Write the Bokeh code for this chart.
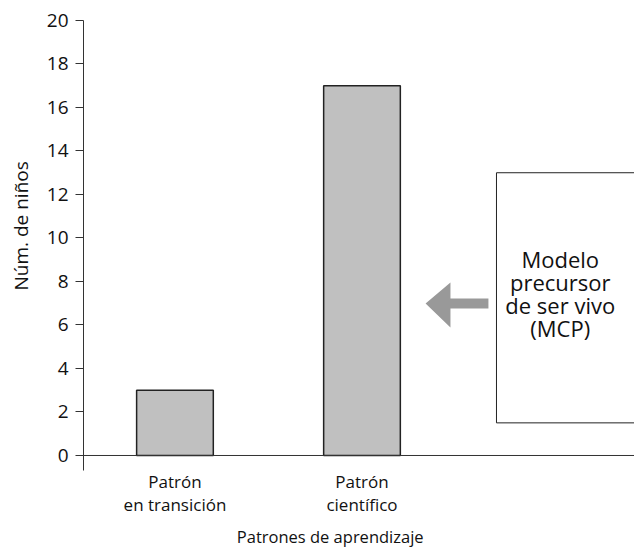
from bokeh.plotting import figure
from bokeh.models import Range1d, Span, Label, BoxAnnotation, PolyAnnotation, FixedTicker, ColumnDataSource, Title
from bokeh.embed import file_html
from bokeh.resources import INLINE

categories = ["Patrón\nen transición", "Patrón\ncientífico"]
cat_pos = [1, 2]
values = [3, 17]
y_ticks = [0, 2, 4, 6, 8, 10, 12, 14, 16, 18, 20]
x_title = "Patrones de aprendizaje"
y_title = "Núm. de niños"
box_text = ["Modelo", "precursor", "de ser vivo", "(MCP)"]

FONT = "Open Sans"
TXT = "#111111"

p = figure(width=634, height=548, output_backend="svg", toolbar_location=None,
           x_range=Range1d(0.511, 3.457), y_range=Range1d(-4.276, 20),
           min_border_left=83, min_border_right=0, min_border_top=20, min_border_bottom=0)
p.outline_line_color = None
p.xgrid.visible = False
p.ygrid.visible = False
p.xaxis.visible = False

ya = p.yaxis[0]
ya.ticker = FixedTicker(ticks=y_ticks)
ya.bounds = (-0.69, 20)
ya.minor_tick_line_color = None
ya.major_tick_in = 0
ya.major_tick_out = 8
ya.major_label_standoff = 7
ya.axis_line_color = "#333333"
ya.major_tick_line_color = "#333333"
ya.major_label_text_font = FONT
ya.major_label_text_font_size = "19px"
ya.major_label_text_color = TXT

p.add_layout(Title(text=y_title, align="left", offset=258, standoff=15, vertical_align="top",
                   text_font=FONT, text_font_size="19px", text_font_style="normal",
                   text_color=TXT), "left")

p.add_layout(Span(location=0, dimension="width", line_color="#333333", line_width=1))

src = ColumnDataSource(dict(x=cat_pos, top=values))
p.vbar(x="x", top="top", bottom=0, width=0.41, source=src,
       fill_color="#c0c0c0", line_color="#222222", line_width=1.5)

# category labels
for xp, lab in zip(cat_pos, categories):
    for i, line in enumerate(lab.split("\n")):
        p.add_layout(Label(x=xp, y=-1.21 - 1.058 * i, text=line, text_align="center",
                           text_baseline="alphabetic", text_font=FONT, text_font_size="17px",
                           text_color=TXT))

p.add_layout(Label(x=1.83, y=-3.73, text=x_title, text_align="center", text_baseline="alphabetic",
                   text_font=FONT, text_font_size="16.5px", text_color=TXT))

# model box
p.add_layout(BoxAnnotation(left=2.719, right=3.6, bottom=1.5, top=13.0,
                           fill_color="white", fill_alpha=1.0, line_color="#222222",
                           line_alpha=1.0, line_width=1))
for i, line in enumerate(box_text):
    p.add_layout(Label(x=3.06, y=9.03 - 1.06 * i, text=line, text_align="center",
                       text_baseline="alphabetic", text_font=FONT, text_font_size="22px",
                       text_color=TXT))

# arrow
p.add_layout(PolyAnnotation(xs=[2.34, 2.473, 2.473, 2.676, 2.676, 2.473, 2.473],
                            ys=[6.99, 7.95, 7.22, 7.22, 6.76, 6.76, 5.89],
                            fill_color="#999999", fill_alpha=1.0, line_color=None))

open("out.html", "w").write(file_html(p, INLINE))
